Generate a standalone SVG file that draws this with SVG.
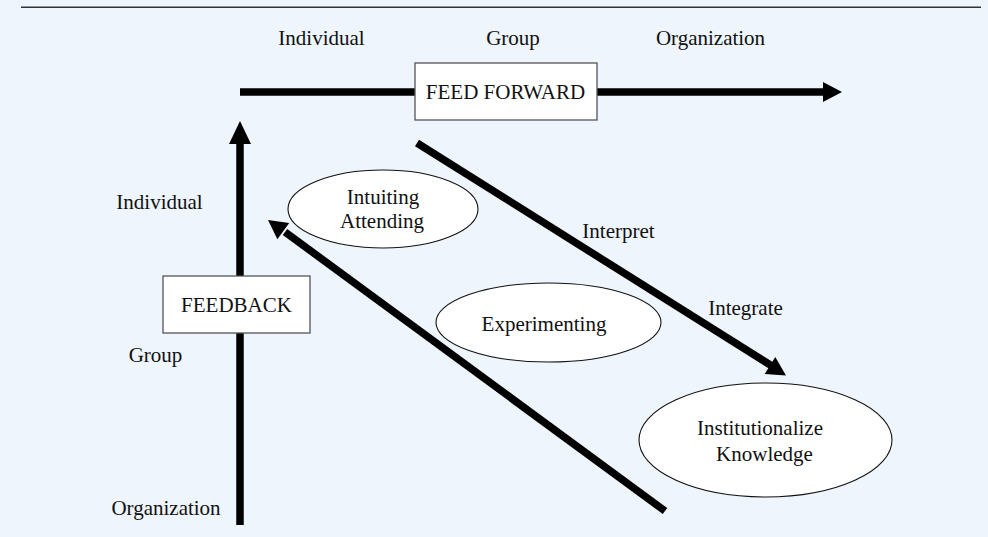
<svg xmlns="http://www.w3.org/2000/svg" width="988" height="537" viewBox="0 0 988 537">
<style>
.t{font-family:"Liberation Serif","Times New Roman",serif;font-size:21px;fill:#111;}
.c{text-anchor:middle;}
.box{fill:#fff;stroke:#555;stroke-width:1.3;}
.oval{fill:#fff;stroke:#111;stroke-width:1.1;}
.shaft{stroke:#000;stroke-width:7.5;fill:none;}
.head{fill:#000;}
</style>
<rect x="0" y="0" width="988" height="537" fill="#EEF5FC"/>
<line x1="21" y1="7.3" x2="981" y2="7.3" stroke="#333" stroke-width="1.4"/>

<g id="labels">
<text class="t c" x="321.5" y="45">Individual</text>
<text class="t c" x="513" y="45">Group</text>
<text class="t c" x="710.5" y="45">Organization</text>
<text class="t c" x="159.5" y="209">Individual</text>
<text class="t c" x="155.5" y="362">Group</text>
<text class="t c" x="166" y="515">Organization</text>
<text class="t c" x="618.5" y="238">Interpret</text>
<text class="t c" x="745.5" y="315">Integrate</text>
</g>

<g id="connectors">
<line class="shaft" x1="240" y1="92" x2="825" y2="92"/>
<polygon class="head" points="823,82 842,92 823,102"/>
<line class="shaft" x1="240" y1="525" x2="240" y2="142"/>
<polygon class="head" points="229,144 240,121 251,144"/>
<line class="shaft" x1="417" y1="143" x2="772" y2="366"/>
<polygon class="head" points="764.7,373.9 786,375.5 775.3,356.9"/>
<line class="shaft" x1="665" y1="511" x2="285" y2="232"/>
<polygon class="head" points="289.2,223.1 268,220 277.4,239.3"/>
</g>

<g id="feed-forward">
<rect class="box" x="415" y="63" width="182" height="57"/>
<text class="t c" x="505.5" y="99">FEED FORWARD</text>
</g>

<g id="feedback">
<rect class="box" x="163" y="276" width="147" height="57"/>
<text class="t c" x="236.5" y="312">FEEDBACK</text>
</g>

<g id="intuiting">
<ellipse class="oval" cx="383" cy="209" rx="95" ry="39"/>
<text class="t c" x="383" y="204">Intuiting</text>
<text class="t c" x="382" y="228">Attending</text>
</g>

<g id="experimenting">
<ellipse class="oval" cx="548.5" cy="322.5" rx="112.5" ry="39.5"/>
<text class="t c" x="544" y="331">Experimenting</text>
</g>

<g id="institutionalize">
<ellipse class="oval" cx="765.5" cy="440" rx="126.5" ry="57"/>
<text class="t c" x="760" y="435">Institutionalize</text>
<text class="t c" x="764.5" y="461">Knowledge</text>
</g>
</svg>
